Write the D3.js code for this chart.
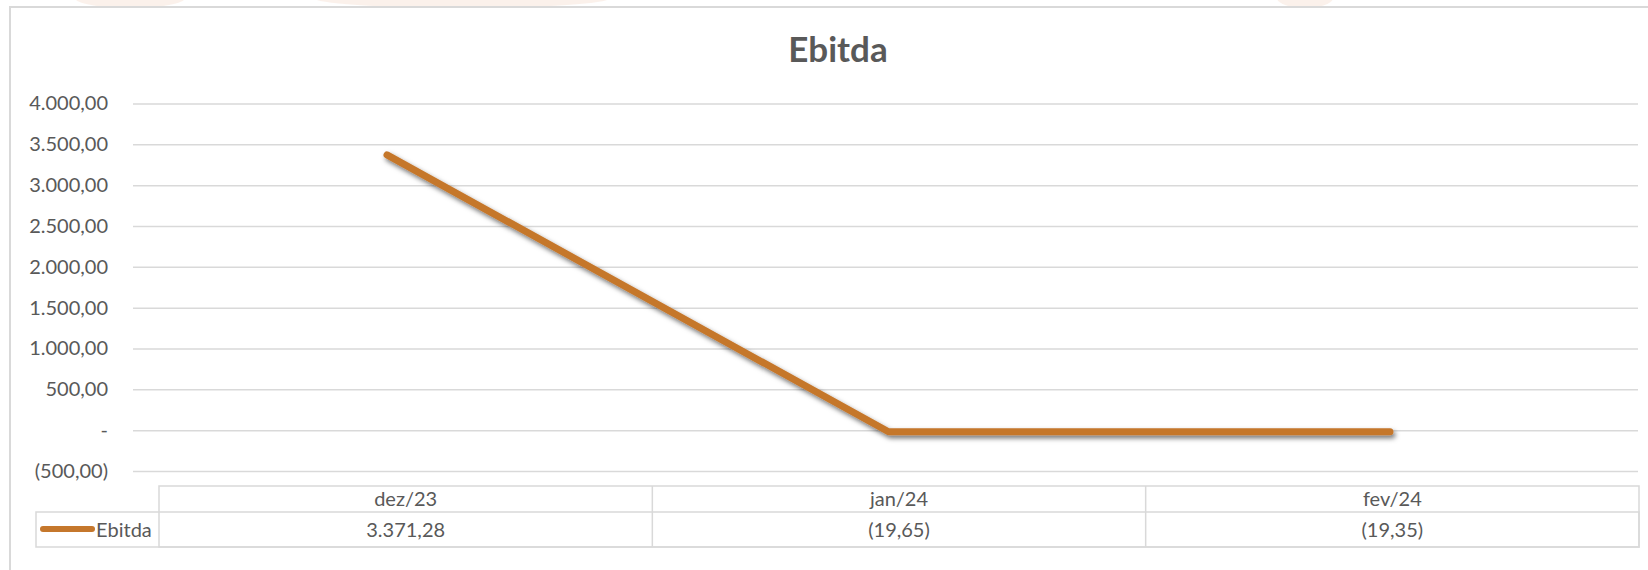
<!DOCTYPE html>
<html>
<head>
<meta charset="utf-8">
<script src="https://cdn.jsdelivr.net/npm/d3@7"></script>
<style>
  body { margin: 0; background: #fff; }
  text { font-family: Lato, "Liberation Sans", sans-serif; fill: #595959; }
</style>
</head>
<body>
<div id="chart"></div>
<script>
// data
var categories = ["dez/23", "jan/24", "fev/24"];
var ebitda = [3371.28, -19.65, -19.35];
var yTicks = [-500, 0, 500, 1000, 1500, 2000, 2500, 3000, 3500, 4000];
var seriesName = "Ebitda";

var width = 1648;
var height = 570;

var svg = d3.select("#chart")
  .append("svg")
  .attr("width", width)
  .attr("height", height);

// faint watermark shapes peeking above the frame
var defs = svg.append("defs");
defs.append("clipPath").attr("id", "topclip")
  .append("rect").attr("x", 0).attr("y", 0).attr("width", width).attr("height", 6);
var wm = svg.append("g").attr("clip-path", "url(#topclip)");
[[130, 55], [462, 148], [1305, 28]].forEach(function (d) {
  wm.append("ellipse").attr("cx", d[0]).attr("cy", -2).attr("rx", d[1]).attr("ry", 10)
    .attr("fill", "#f7e4d8").attr("opacity", 0.5);
});

var shadow = defs.append("filter").attr("id", "shadow")
  .attr("x", "-5%").attr("y", "-5%").attr("width", "110%").attr("height", "120%");
shadow.append("feDropShadow")
  .attr("dx", 2).attr("dy", 3).attr("stdDeviation", 2.5)
  .attr("flood-color", "#000").attr("flood-opacity", 0.55);

// chart frame
svg.append("line").attr("x1", 9).attr("x2", width).attr("y1", 7).attr("y2", 7)
  .attr("stroke", "#d9d9d9").attr("stroke-width", 2);
svg.append("line").attr("x1", 10).attr("x2", 10).attr("y1", 6).attr("y2", height)
  .attr("stroke", "#d9d9d9").attr("stroke-width", 2);

svg.append("text")
  .attr("x", 838).attr("y", 62)
  .attr("text-anchor", "middle")
  .style("font-size", "35px").style("font-weight", "bold")
  .text("Ebitda");

var y = d3.scaleLinear().domain([-500, 4000]).range([471, 103.5]);
var x = d3.scalePoint().domain(categories).range([387, 1390]);
var col = d3.scaleBand().domain(categories).range([159, 1639]);

function fmt(v) {
  if (v === 0) return "-";
  var s = d3.format(",.2f")(Math.abs(v)).replace(/,/g, "#").replace(".", ",").replace(/#/g, ".");
  return v < 0 ? "(" + s + ")" : s;
}

var yAxis = svg.append("g")
  .attr("transform", "translate(133,0)")
  .call(d3.axisLeft(y).tickValues(yTicks).tickSize(-1505).tickPadding(25).tickFormat(fmt));
yAxis.select(".domain").remove();
yAxis.selectAll(".tick line").attr("stroke", "#d9d9d9").attr("stroke-width", 1.5);
yAxis.selectAll(".tick text")
  .attr("fill", "#595959")
  .style("font-family", "Lato, sans-serif")
  .style("font-size", "20px");

svg.append("path")
  .datum(ebitda)
  .attr("fill", "none")
  .attr("stroke", "#c5772c")
  .attr("stroke-width", 7)
  .attr("stroke-linecap", "round")
  .attr("stroke-linejoin", "round")
  .attr("filter", "url(#shadow)")
  .attr("d", d3.line()
    .x(function (d, i) { return x(categories[i]); })
    .y(function (d) { return y(d); })
  );

// data table
var tTop = 486, tMid = 512, tBot = 547, legLeft = 36;
var grid = svg.append("g").attr("stroke", "#d9d9d9").attr("stroke-width", 1.5).attr("fill", "none");
grid.append("rect").attr("x", col.range()[0]).attr("y", tTop)
  .attr("width", col.range()[1] - col.range()[0]).attr("height", tBot - tTop);
grid.append("rect").attr("x", legLeft).attr("y", tMid)
  .attr("width", col.range()[1] - legLeft).attr("height", tBot - tMid);
categories.slice(1).forEach(function (c) {
  grid.append("line").attr("x1", col(c)).attr("x2", col(c)).attr("y1", tTop).attr("y2", tBot);
});

svg.selectAll(".hdr").data(categories).enter().append("text")
  .attr("class", "hdr")
  .attr("x", function (d) { return col(d) + col.bandwidth() / 2; })
  .attr("y", 506)
  .attr("text-anchor", "middle")
  .style("font-size", "20px")
  .text(function (d) { return d; });

svg.selectAll(".val").data(ebitda).enter().append("text")
  .attr("class", "val")
  .attr("x", function (d, i) { return col(categories[i]) + col.bandwidth() / 2; })
  .attr("y", 537)
  .attr("text-anchor", "middle")
  .style("font-size", "20px")
  .text(function (d) { return fmt(d); });

svg.append("line").attr("x1", 43).attr("x2", 92).attr("y1", 529).attr("y2", 529)
  .attr("stroke", "#c5772c").attr("stroke-width", 6).attr("stroke-linecap", "round");
svg.append("text").attr("x", 96).attr("y", 537)
  .style("font-size", "20px")
  .text(seriesName);
</script>
</body>
</html>
